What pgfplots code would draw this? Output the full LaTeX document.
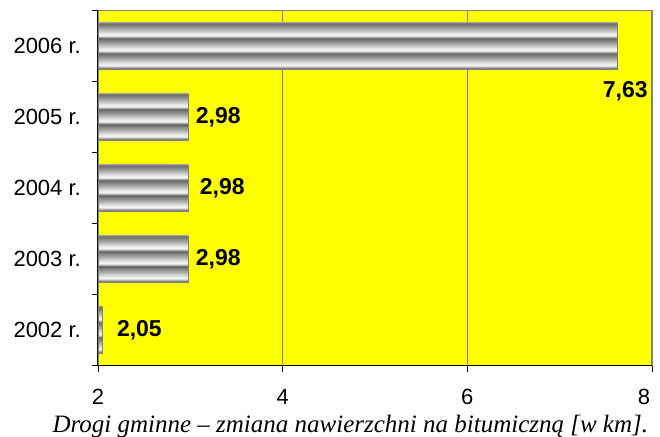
\documentclass[border=0pt]{standalone}
\usepackage{pgfplots}
\pgfplotsset{compat=1.18}
\usepackage{fontspec}
\setmainfont{Liberation Sans}
\newfontfamily\capfont{Liberation Serif}

\definecolor{chartyellow}{RGB}{255,255,0}
\definecolor{frame}{RGB}{128,128,128}
\definecolor{tdark}{RGB}{58,58,58}
\definecolor{tmid}{RGB}{140,140,140}
\definecolor{twhite}{RGB}{248,248,248}
\definecolor{tlight}{RGB}{228,228,228}
\definecolor{tgrey}{RGB}{165,165,165}
\definecolor{tedge}{RGB}{108,108,108}

% three "tubes" stacked in one bar (centre 25bp..75bp is what shows)
\pgfdeclareverticalshading{tube}{100bp}{%
  color(0bp)=(frame); color(25bp)=(frame);
  color(25.6bp)=(tedge); color(26.4bp)=(tmid); color(29bp)=(twhite);
  color(31.5bp)=(tlight); color(36.5bp)=(tgrey); color(41.5bp)=(tedge);
  color(41.8bp)=(tdark); color(42.6bp)=(tmid); color(45.3bp)=(twhite);
  color(47.8bp)=(tlight); color(52.8bp)=(tgrey); color(57.8bp)=(tedge);
  color(58.1bp)=(tdark); color(58.9bp)=(tmid); color(61.6bp)=(twhite);
  color(64.1bp)=(tlight); color(69.1bp)=(tgrey); color(74.4bp)=(tedge);
  color(75bp)=(frame); color(100bp)=(frame)}

\pgfplotsset{tubebar/.style={draw=frame, line width=0.8pt, shade, shading=tube,
  point meta=x, bar shift=0pt}}

\begin{document}
\begin{tikzpicture}
\useasboundingbox (-98pt,-70.5pt) rectangle (562pt,365.5pt);
\begin{axis}[
  scale only axis,
  width=554pt, height=355pt,
  xbar, bar width=0.65,
  xmin=2, xmax=8, ymin=-0.5, ymax=4.5,
  axis lines*=left,
  axis line style={black, line width=1pt},
  axis background/.style={fill=chartyellow, draw=frame, line width=1.2pt},
  xtick={2,4,6,8},
  xticklabels={2,4,6,8\hspace*{16pt}},
  minor xtick={2,4,6,8},
  ytick={0,1,2,3,4},
  yticklabels={2002 r.,2003 r.,2004 r.,2005 r.,2006 r.},
  minor ytick={-0.5,0.5,1.5,2.5,3.5,4.5},
  major tick length=0pt,
  minor tick length=6pt,
  tick align=outside,
  minor tick style={black, line width=0.8pt},
  xmajorgrids,
  major grid style={frame, line width=0.8pt},
  ticklabel style={font=\fontsize{22}{22}\selectfont, inner sep=0pt},
  xticklabel style={anchor=north, yshift=-23.5pt},
  yticklabel style={anchor=east, xshift=-17pt},
  /pgf/number format/assume math mode=true,
  nodes near coords={\pgfmathprintnumber[fixed,fixed zerofill,precision=2,use comma,assume math mode=true]{\pgfplotspointmeta}},
  every node near coord/.append style={font=\fontsize{23}{23}\selectfont\bfseries,
    text=black, anchor=west, inner sep=0pt, xshift=7pt},
]
% 2002
\addplot[tubebar, every node near coord/.append style={xshift=7pt}]
  coordinates {(2.05,0)};
% 2003
\addplot[tubebar] coordinates {(2.98,1)};
% 2004
\addplot[tubebar, every node near coord/.append style={xshift=4pt}]
  coordinates {(2.98,2)};
% 2005
\addplot[tubebar] coordinates {(2.98,3)};
% 2006
\addplot[tubebar, every node near coord/.append style={xshift=-22.4pt, yshift=-45pt}]
  coordinates {(7.63,4)};
\end{axis}
\node[anchor=base west, font=\capfont\itshape\fontsize{25}{25}\selectfont]
  at (-49pt,-66.5pt) {Drogi gminne – zmiana nawierzchni na bitumiczną [w km].};
\end{tikzpicture}
\end{document}
